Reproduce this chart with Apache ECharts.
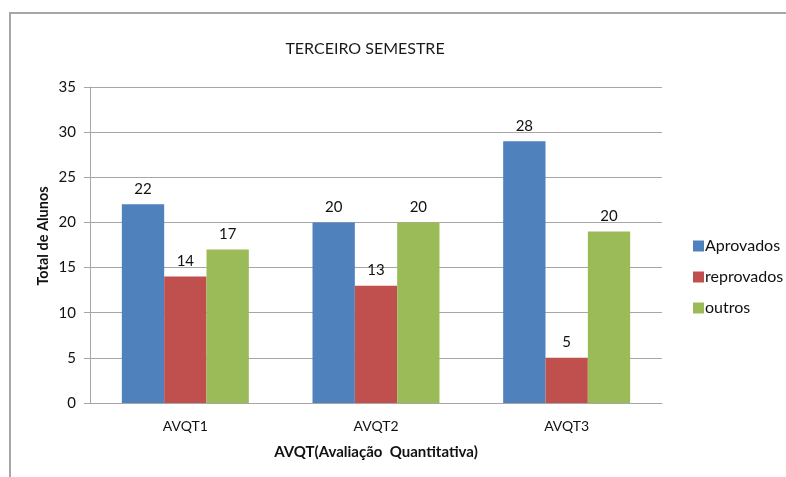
<!DOCTYPE html>
<html><head><meta charset="utf-8">
<script src="https://cdn.jsdelivr.net/npm/echarts@6/dist/echarts.min.js"></script>
<style>html,body{margin:0;padding:0;background:#fff}#c{width:786px;height:477px}</style>
</head><body><div id="c"></div>
<script>
const categories = ['AVQT1', 'AVQT2', 'AVQT3'];
const seriesNames = ['Aprovados', 'reprovados', 'outros'];
const aprovados = [22, 20, 29];
const reprovados = [14, 13, 5];
const outros = [17, 20, 19];
const aprovadosLabels = [22, 20, 28];
const reprovadosLabels = [14, 13, 5];
const outrosLabels = [17, 20, 20];
const yTicks = [0, 5, 10, 15, 20, 25, 30, 35];

const FONT = 'Lato, "Open Sans", sans-serif';
const colors = ['#4F81BD', '#C0504D', '#9BBB59'];
const values = [aprovados, reprovados, outros];
const labels = [aprovadosLabels, reprovadosLabels, outrosLabels];

const chart = echarts.init(document.getElementById('c'));
chart.setOption({
  animation: false,
  color: colors,
  textStyle: { fontFamily: FONT },
  title: {
    text: 'TERCEIRO SEMESTRE',
    left: 360, top: 36, textAlign: 'center',
    textStyle: { fontSize: 16, fontWeight: 'normal', color: '#1a1a1a', fontFamily: FONT }
  },
  legend: {
    orient: 'vertical', left: 688, top: 233,
    itemWidth: 11, itemHeight: 11, itemGap: 15,
    icon: 'rect',
    textStyle: { fontSize: 16, color: '#111', fontFamily: FONT, padding: [0, 0, 0, -4] },
    data: seriesNames
  },
  grid: { left: 90, right: 124, top: 87, bottom: 74, containLabel: false },
  xAxis: {
    type: 'category', data: categories,
    name: 'AVQT(Avaliação  Quantitativa)', nameLocation: 'middle', nameGap: 42,
    nameTextStyle: { fontSize: 15, fontWeight: 'bold', color: '#111', fontFamily: FONT },
    axisLine: { lineStyle: { color: '#a6a6a6', width: 1 } },
    axisTick: { show: false },
    axisLabel: { fontSize: 14, color: '#111', margin: 16, fontFamily: FONT }
  },
  yAxis: {
    type: 'value', min: yTicks[0], max: yTicks[yTicks.length - 1], interval: 5,
    axisLine: { show: true, lineStyle: { color: '#a6a6a6', width: 1 } },
    axisTick: { show: true, length: 6, lineStyle: { color: '#a6a6a6' } },
    axisLabel: { fontSize: 15, color: '#111', margin: 14, fontFamily: FONT },
    splitLine: { lineStyle: { color: '#a6a6a6', width: 1 } }
  },
  graphic: [
    { type: 'rect', shape: { x: 10, y: 13, width: 800, height: 500 }, style: { fill: 'none', stroke: '#a6a6a6', lineWidth: 2 }, silent: true },
    { type: 'text', x: 43, y: 236, rotation: Math.PI / 2,
      style: { text: 'Total de Alunos', font: 'bold 14.5px ' + FONT, fill: '#111', textAlign: 'center', textVerticalAlign: 'middle' } }
  ],
  series: seriesNames.map((n, i) => ({
    name: n, type: 'bar', data: values[i],
    barWidth: '22.2%', barGap: '0%', barCategoryGap: '33.4%',
    itemStyle: { color: colors[i] },
    label: {
      show: true, position: 'top', distance: 8,
      fontSize: 15, color: '#111', fontFamily: FONT,
      formatter: p => String(labels[i][p.dataIndex])
    }
  }))
});
</script></body></html>
